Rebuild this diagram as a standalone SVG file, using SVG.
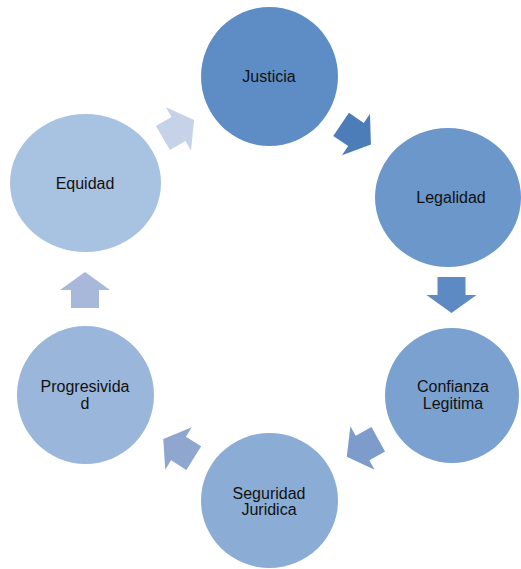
<svg xmlns="http://www.w3.org/2000/svg" width="521" height="569" viewBox="0 0 521 569">
<defs>
<path id="arr" d="M-18,-14 L0,-14 L0,-25 L18,0 L0,25 L0,14 L-18,14 Z"/>
</defs>
<style>
text{font-family:"Liberation Sans",Arial,sans-serif;font-size:16px;fill:#111;text-anchor:middle}
</style>
<rect width="521" height="569" fill="#fff"/>
<g id="connectors">
<use href="#arr" transform="translate(356,134.5) rotate(34)" fill="#4d7db9"/>
<use href="#arr" transform="translate(451.5,295) rotate(90)" fill="#5e8ac4"/>
<use href="#arr" transform="translate(362.5,448) rotate(151)" fill="#7d9ccb"/>
<use href="#arr" transform="translate(178.5,448.5) rotate(212)" fill="#8fa7cf"/>
<use href="#arr" transform="translate(85,290) rotate(-90)" fill="#a7b8da"/>
<use href="#arr" transform="translate(178.5,129) rotate(-30)" fill="#c6d2e8"/>
</g>
<g id="justicia">
<ellipse cx="269.5" cy="76.5" rx="68.5" ry="69.5" fill="#5e8dc5"/>
<text x="269" y="82">Justicia</text>
</g>
<g id="legalidad">
<ellipse cx="448" cy="197.5" rx="73" ry="69.5" fill="#6b97ca"/>
<text x="451" y="202.5">Legalidad</text>
</g>
<g id="confianza">
<ellipse cx="452" cy="395.5" rx="67" ry="67.5" fill="#7ba1d0"/>
<text x="453" y="391.5">Confianza</text>
<text x="453" y="408.5">Legitima</text>
</g>
<g id="seguridad">
<ellipse cx="269.5" cy="500.5" rx="68.5" ry="67.5" fill="#8badd5"/>
<text x="269" y="498.5">Seguridad</text>
<text x="269" y="515">Juridica</text>
</g>
<g id="progresividad">
<ellipse cx="85.5" cy="395" rx="68.5" ry="69" fill="#9ab7db"/>
<text x="85" y="391.5">Progresivida</text>
<text x="85" y="408.5">d</text>
</g>
<g id="equidad">
<ellipse cx="85.5" cy="183" rx="75.5" ry="69" fill="#a8c2e1"/>
<text x="85" y="188.5">Equidad</text>
</g>
</svg>
